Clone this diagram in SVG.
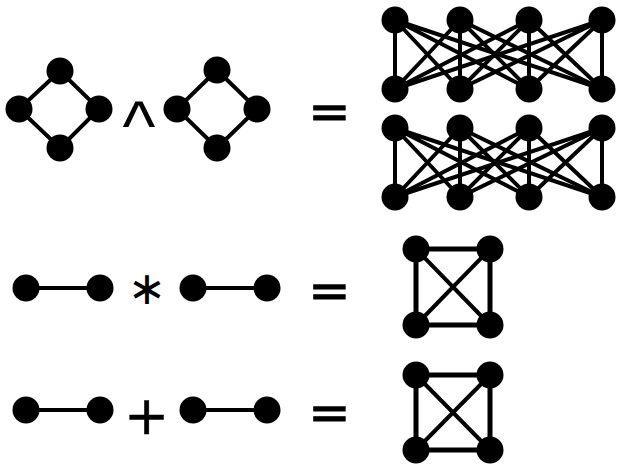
<svg xmlns="http://www.w3.org/2000/svg" width="619" height="466" viewBox="0 0 619 466">
<style>
.e{stroke:#000;stroke-width:4;fill:none;stroke-linecap:round}
.n{fill:#000}
.op{font-family:"DejaVu Sans",sans-serif;fill:#000}
.eq{stroke:#000;stroke-width:1.2}
</style>
<rect width="619" height="466" fill="#fff"/>
<g id="connectors">
  <path class="e" d="M60,71 L19,109 L60,148 L99,109 Z"/>
  <path class="e" d="M217,70 L177,109 L217,148 L257,109 Z"/>
  <g class="e">
    <path d="M395,20 L395,89 M395,20 L460,89 M395,20 L529,89 M395,20 L602,89"/>
    <path d="M460,20 L395,89 M460,20 L460,89 M460,20 L529,89 M460,20 L602,89"/>
    <path d="M529,20 L395,89 M529,20 L460,89 M529,20 L529,89 M529,20 L602,89"/>
    <path d="M602,20 L395,89 M602,20 L460,89 M602,20 L529,89 M602,20 L602,89"/>
  </g>
  <g class="e">
    <path d="M395,128 L395,197 M395,128 L460,197 M395,128 L529,197 M395,128 L602,197"/>
    <path d="M460,128 L395,197 M460,128 L460,197 M460,128 L529,197 M460,128 L602,197"/>
    <path d="M529,128 L395,197 M529,128 L460,197 M529,128 L529,197 M529,128 L602,197"/>
    <path d="M602,128 L395,197 M602,128 L460,197 M602,128 L529,197 M602,128 L602,197"/>
  </g>
  <path class="e" d="M26,288 L100,288 M193,288 L267,288"/>
  <path class="e" d="M26,410 L100,410 M193,410 L267,410"/>
  <path class="e" style="stroke-width:5" d="M416,249 L490,249 L490,325 L416,325 Z"/>
  <path class="e" d="M416,249 L490,325 M490,249 L416,325"/>
  <path class="e" style="stroke-width:5" d="M416,375 L490,375 L490,450 L416,450 Z"/>
  <path class="e" d="M416,375 L490,450 M490,375 L416,450"/>
</g>
<g id="g1-nodes">
  <circle class="n" cx="60" cy="71" r="13.5"/>
  <circle class="n" cx="19" cy="109" r="13.5"/>
  <circle class="n" cx="99" cy="109" r="13.5"/>
  <circle class="n" cx="60" cy="148" r="13.5"/>
</g>
<g id="g2-nodes">
  <circle class="n" cx="217" cy="70" r="13.5"/>
  <circle class="n" cx="177" cy="109" r="13.5"/>
  <circle class="n" cx="257" cy="109" r="13.5"/>
  <circle class="n" cx="217" cy="148" r="13.5"/>
</g>
<g id="k44a-nodes">
  <circle class="n" cx="395" cy="20" r="13.5"/>
  <circle class="n" cx="460" cy="20" r="13.5"/>
  <circle class="n" cx="529" cy="20" r="13.5"/>
  <circle class="n" cx="602" cy="20" r="13.5"/>
  <circle class="n" cx="395" cy="89" r="13.5"/>
  <circle class="n" cx="460" cy="89" r="13.5"/>
  <circle class="n" cx="529" cy="89" r="13.5"/>
  <circle class="n" cx="602" cy="89" r="13.5"/>
</g>
<g id="k44b-nodes">
  <circle class="n" cx="395" cy="128" r="13.5"/>
  <circle class="n" cx="460" cy="128" r="13.5"/>
  <circle class="n" cx="529" cy="128" r="13.5"/>
  <circle class="n" cx="602" cy="128" r="13.5"/>
  <circle class="n" cx="395" cy="197" r="13.5"/>
  <circle class="n" cx="460" cy="197" r="13.5"/>
  <circle class="n" cx="529" cy="197" r="13.5"/>
  <circle class="n" cx="602" cy="197" r="13.5"/>
</g>
<g id="p1-nodes">
  <circle class="n" cx="26" cy="288" r="13.5"/>
  <circle class="n" cx="100" cy="288" r="13.5"/>
</g>
<g id="p2-nodes">
  <circle class="n" cx="193" cy="288" r="13.5"/>
  <circle class="n" cx="267" cy="288" r="13.5"/>
</g>
<g id="p3-nodes">
  <circle class="n" cx="26" cy="410" r="13.5"/>
  <circle class="n" cx="100" cy="410" r="13.5"/>
</g>
<g id="p4-nodes">
  <circle class="n" cx="193" cy="410" r="13.5"/>
  <circle class="n" cx="267" cy="410" r="13.5"/>
</g>
<g id="k4a-nodes">
  <circle class="n" cx="416" cy="249" r="13.5"/>
  <circle class="n" cx="490" cy="249" r="13.5"/>
  <circle class="n" cx="416" cy="325" r="13.5"/>
  <circle class="n" cx="490" cy="325" r="13.5"/>
</g>
<g id="k4b-nodes">
  <circle class="n" cx="416" cy="375" r="13.5"/>
  <circle class="n" cx="490" cy="375" r="13.5"/>
  <circle class="n" cx="416" cy="450" r="13.5"/>
  <circle class="n" cx="490" cy="450" r="13.5"/>
</g>
<g id="operators">
  <text x="139" y="150" text-anchor="middle" font-family="Liberation Sans, sans-serif" font-size="70">^</text>
  <text class="op eq" x="329.5" y="129" text-anchor="middle" font-size="50">=</text>
  <text class="op" x="147" y="304" text-anchor="middle" font-size="46">∗</text>
  <text class="op eq" x="329.5" y="308" text-anchor="middle" font-size="50">=</text>
  <text class="op" x="146.5" y="434" text-anchor="middle" font-size="54" stroke="#000" stroke-width="0.5">+</text>
  <text class="op eq" x="329.5" y="430" text-anchor="middle" font-size="50">=</text>
</g>
</svg>
